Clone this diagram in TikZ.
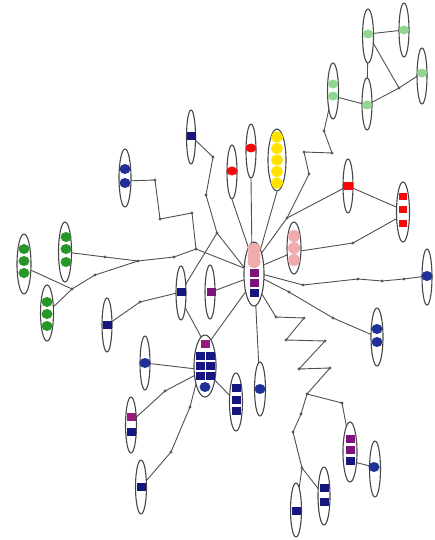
\documentclass[tikz,border=0pt]{standalone}
\usetikzlibrary{shapes.geometric}
\pgfdeclarelayer{bg}
\pgfsetlayers{bg,main}
\definecolor{navysq}{RGB}{22,22,128}
\definecolor{bluedot}{RGB}{32,48,150}
\definecolor{purp}{RGB}{125,20,125}
\definecolor{mag}{RGB}{150,25,125}
\definecolor{pinkd}{RGB}{240,172,172}
\definecolor{redd}{RGB}{245,10,10}
\definecolor{yel}{RGB}{255,228,0}
\definecolor{grn}{RGB}{40,150,40}
\definecolor{lgrn}{RGB}{145,215,145}
\definecolor{edgec}{RGB}{80,80,80}
\begin{document}
\begin{tikzpicture}[x=1pt,y=-1pt,
  conn/.style={draw=edgec, line width=0.9pt},
  jdot/.style={circle, fill=black!65, inner sep=0pt, minimum size=3.2pt},
  ell/.style={ellipse, draw=black!72, line width=1.1pt, fill=white, inner sep=0pt},
  sq/.style={rectangle, fill=#1, inner sep=0pt, minimum width=9pt, minimum height=8pt},
  dt/.style={ellipse, fill=#1, inner sep=0pt, minimum width=11pt, minimum height=10pt},
]
\useasboundingbox (0,0) rectangle (435,540);

% ellipses
\foreach \n/\x/\y/\w/\h in {
  g1/368/36/11/54, g2/404/30/10/54, g3/422/76/10/56, g4/333/91/11/56, g5/367/104/10/52,
  b1/191/137/9/54, r1/232/172/10/54, r2/251/151/10/54, ye/277/160/18/62,
  r3/348/186/10/54, r4/403/212/13/60, pk/294/248/14/52, c/254/274/20/64,
  pu1/210/292/10/54, n2/181/293/10/54, b2/427/277/10/56, b3/377/337/12/58,
  b4/125/178/12/58, gr1/24/264/14/60, gr2/65/252/13/60, gr3/47/313/13/56,
  n3/107/325/10/54, gd/205/366/22/62, b5/145/363/10/54, pm/131/425/11/56,
  n4/141/487/11/54, n5/236/402/13/58, b6/260/389/11/54, pm2/350/452/14/60,
  b7/375/469/11/56, n6/324/496/12/58, n7/296/510/11/54}
  \node[ell, minimum width=\w pt, minimum height=\h pt] (\n) at (\x,\y) {};

% light green dots
\foreach \n/\x/\y in {g1d/368/34, g2d/404/30, g3d/422/73, g4d1/333/84, g4d2/333/96, g5d/367/105}
  \node[dt=lgrn, minimum width=10pt, minimum height=9pt] (\n) at (\x,\y) {};
% dark green dots
\foreach \n/\x/\y in {gr1d1/24/249, gr1d2/24/261, gr1d3/24/273, gr2d1/66/237, gr2d2/66/249, gr2d3/66/262,
  gr3d1/47/302, gr3d2/47/314, gr3d3/47/326}
  \node[dt=grn, minimum width=11pt, minimum height=10pt] (\n) at (\x,\y) {};
% yellow dots
\foreach \n/\y in {yd1/137, yd2/148.5, yd3/160, yd4/171.5, yd5/183}
  \node[dt=yel, minimum width=12pt, minimum height=11pt] (\n) at (277,\y) {};
% red dots
\node[dt=redd, minimum height=9pt] (r1d) at (232,171) {};
\node[dt=redd, minimum height=9pt] (r2d) at (251,148) {};
% red squares
\node[sq=redd, minimum width=10pt] (r3s) at (348,186) {};
\foreach \n/\y in {r4s1/196, r4s2/209, r4s3/223}
  \node[sq=redd, minimum width=8pt, minimum height=7pt] (\n) at (403,\y) {};
% pink dots
\foreach \n/\y in {pkd1/236, pkd2/248, pkd3/260}
  \node[dt=pinkd, minimum width=12pt, minimum height=12pt] (\n) at (294,\y) {};
\foreach \n/\y in {cd1/249, cd2/256, cd3/262}
  \node[dt=pinkd, minimum width=13pt, minimum height=12pt] (\n) at (254,\y) {};
% center squares
\node[sq=purp] (cs1) at (254,273) {};
\node[sq=purp] (cs2) at (254,283) {};
\node[sq=navysq] (cs3) at (254,293) {};
% blue dots
\foreach \n/\x/\y in {b2d/427/276, b3d1/377/329, b3d2/377/342, b4d1/125/169, b4d2/125/183,
  b5d/145/363, b6d/260/389, b7d/374/467, gdd/205/387}
  \node[dt=bluedot] (\n) at (\x,\y) {};
% single navy squares
\foreach \n/\x/\y in {b1s/191/136, n2s/181/292, n3s/107/325, n4s/141/487, pms2/131/432,
  n6s1/324/488, n6s2/324/502, n7s/296/511, pm2s3/350/461,
  n5s1/236/388, n5s2/236/399.5, n5s3/236/411,
  gs1/200.5/356, gs2/210.5/356, gs3/200.5/366, gs4/210.5/366, gs5/200.5/376, gs6/210.5/376}
  \node[sq=navysq] (\n) at (\x,\y) {};
% purple / magenta squares
\node[sq=purp] (pu1s) at (211,292) {};
\node[sq=purp] (pm2s1) at (350,439) {};
\node[sq=purp] (pm2s2) at (350,450) {};
\node[sq=mag] (gsm) at (205,344) {};
\node[sq=mag] (pms1) at (131,417) {};

% junction dots
\foreach \n/\x/\y in {k1/324/131, k2/332/153, k3/304/152, k4/309/174, k5/287/218, k6/399/88,
  k7/353/243, k8/213/157, k9/206/195, k10/217/233, k11/155/180, k12/160/219, k13/192/213,
  k14/196/249, k15/105/257, k16/138/261, k17/174/257, k18/72/289, k19/95/275, k20/140/302,
  k21/165/391, k22/171/452, k23/190/407, k24/303/285, k25/358/279, k26/382/281, k27/404/279,
  k28/289/292, k29/333/318, z1/276/317, z2/304/318, z3/286/340, z4/325/341, z5/299/369,
  z6/330/368, z7/307/394, z8/342/403, z9/301/414, z10/293/432, z11/302/468}
  \node[jdot] (\n) at (\x,\y) {};

% attachment points inside ellipses
\coordinate (cT1) at (252,258);
\coordinate (cT2) at (258,258);
\coordinate (cL) at (254,272);
\coordinate (cL2) at (254,280);
\coordinate (cP) at (254,276);
\coordinate (cG) at (252,283);
\coordinate (cB) at (255,290);
\coordinate (cZ) at (257,286);
\coordinate (cR) at (254,274);
\coordinate (cK) at (254,269);
\coordinate (pkA) at (294,252);
\coordinate (r4A) at (403,210);
\coordinate (r4B) at (403,215);
\coordinate (b4A) at (125,181);
\coordinate (gr1A) at (24,267);
\coordinate (n2B) at (181,300);
\coordinate (gdT) at (205,348);
\coordinate (gdC) at (205,370);
\coordinate (gdL) at (199,372);
\coordinate (pmA) at (131,422);
\coordinate (pm2A) at (349,440);
\coordinate (b3A) at (377,337);

\begin{pgfonlayer}{bg}
\draw[conn] (g4d2.center) -- (g5d.center) -- (k6.center) -- (g3d.center);
\draw[conn] (k6.center) -- (g1d.center) -- (g2d.center);
\draw[conn] (g1.center) -- (g5.center);
\draw[conn] (g4.center) -- (k1.center) -- (k2.center) -- (k3.center) -- (k4.center) -- (k5.center) -- (cT2);
\draw[conn] (k5.center) -- (r3s.center) -- (r4A);
\draw[conn] (r4B) -- (k7.center) -- (pkA);
\draw[conn] (cK) -- (pkA);
\draw[conn] (r1.south) -- (cT1);
\draw[conn] (r2.south) -- (cT1);
\draw[conn] (ye.south) -- (cT2);
\draw[conn] (b1s.center) -- (k8.center) -- (k9.center) -- (k10.center) -- (cL2);
\draw[conn] (b4A) -- (k11.center) -- (k12.center) -- (k13.center) -- (k14.center) -- (cL);
\draw[conn] (gr2.center) -- (k15.center) -- (k16.center) -- (k17.center) -- (k14.center);
\draw[conn] (gr1A) -- (k18.center) -- (gr3.center);
\draw[conn] (k18.center) -- (k19.center) -- (k16.center);
\draw[conn] (n3s.center) -- (k20.center) -- (n2s.center) -- (k10.center);
\draw[conn] (pu1s.center) -- (cP);
\draw[conn] (n2B) -- (gsm.center);
\draw[conn] (b5d.center) -- (gdC);
\draw[conn] (pmA) -- (k21.center) -- (gdC);
\draw[conn] (n4s.center) -- (k22.center) -- (k23.center) -- (gdL);
\draw[conn] (gdC) -- (n5.center);
\draw[conn] (gdT) -- (cG);
\draw[conn] (cB) -- (b6d.center);
\draw[conn] (cL) -- (k24.center) -- (k25.center) -- (k26.center) -- (k27.center) -- (b2d.center);
\draw[conn] (cR) -- (k28.center) -- (k29.center) -- (b3A);
\draw[conn] (cZ) -- (z1.center) -- (z2.center) -- (z3.center) -- (z4.center) -- (z5.center)
  -- (z6.center) -- (z7.center) -- (z8.center) -- (pm2A);
\draw[conn] (z7.center) -- (z9.center) -- (z10.center) -- (z11.center) -- (n6.center);
\draw[conn] (z11.center) -- (n7.center);
\draw[conn] (pm2s3.center) -- (b7d.center);
\end{pgfonlayer}
\end{tikzpicture}
\end{document}
